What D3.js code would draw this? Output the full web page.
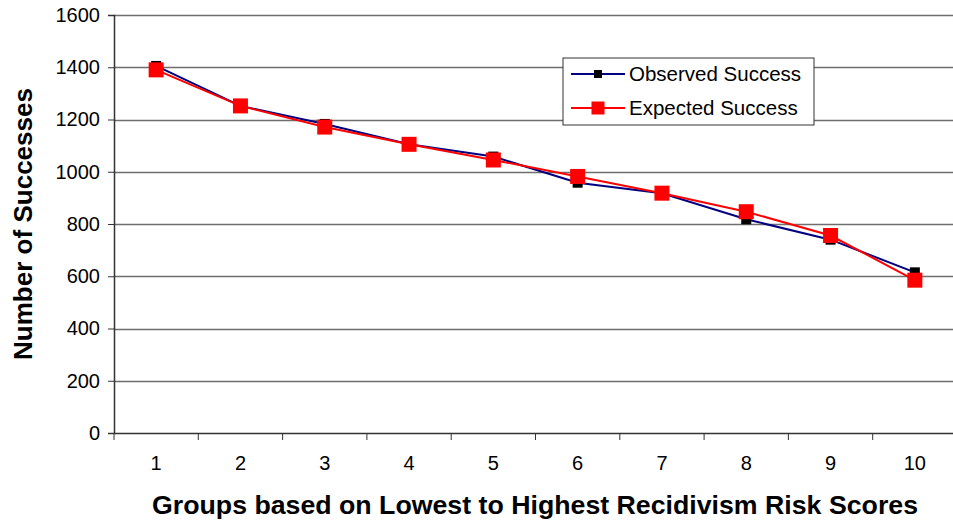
<!DOCTYPE html>
<html lang="en">
<head>
<meta charset="utf-8">
<title>Observed vs Expected Success</title>
<script src="https://d3js.org/d3.v7.min.js"></script>
<style>
  body { margin: 0; background: #fff; font-family: 'Liberation Sans', Arial, sans-serif; }
</style>
</head>
<body>
<div id="chart"></div>
<script>

/* Data */
var groups = ['1', '2', '3', '4', '5', '6', '7', '8', '9', '10'];
var observed = [1405, 1252, 1183, 1105, 1058, 958, 918, 818, 740, 615];
var expected = [1390, 1252, 1171, 1105, 1045, 982, 918, 847, 756, 585];
var yTicks = [0, 200, 400, 600, 800, 1000, 1200, 1400, 1600];

/* Layout */
var width = 953, height = 524;
var margin = { top: 15, right: -4, bottom: 91, left: 114 };
var innerW = width - margin.left - margin.right,
    innerH = height - margin.top - margin.bottom;

var svg = d3.select('#chart').append('svg')
  .attr('width', width)
  .attr('height', height);

var g = svg.append('g')
  .attr('transform', 'translate(' + margin.left + ',' + margin.top + ')');

var x = d3.scaleBand().domain(groups).range([0, innerW]);
var y = d3.scaleLinear().domain([0, 1600]).range([innerH, 0]);

// gridlines
g.selectAll('line.grid')
  .data(yTicks.filter(function(d) { return d > 0; }))
  .enter().append('line')
  .attr('class', 'grid')
  .attr('x1', 0).attr('x2', innerW)
  .attr('y1', function(d) { return Math.round(y(d)) + 0.5; })
  .attr('y2', function(d) { return Math.round(y(d)) + 0.5; })
  .attr('stroke', '#6e6e6e')
  .attr('stroke-width', 1.3);

// y axis
var yAxis = g.append('g')
  .call(d3.axisLeft(y).tickValues(yTicks).tickFormat(d3.format('d')).tickSize(6).tickPadding(8));
yAxis.select('.domain').attr('stroke', '#333').attr('stroke-width', 1.5);
yAxis.selectAll('.tick line').attr('stroke', '#333');
yAxis.selectAll('text')
  .attr('font-size', 20)
  .attr('fill', '#000')
  .attr('font-family', "'Liberation Sans', Arial, sans-serif");

// x axis with ticks at band boundaries
var xAxis = g.append('g')
  .attr('transform', 'translate(0,' + innerH + ')')
  .call(d3.axisBottom(x).tickSize(0).tickPadding(23));
xAxis.select('.domain').attr('stroke', '#333').attr('stroke-width', 1.5);
xAxis.selectAll('text')
  .attr('font-size', 20)
  .attr('fill', '#000')
  .attr('font-family', "'Liberation Sans', Arial, sans-serif");
g.selectAll('line.xtick')
  .data(groups)
  .enter().append('line')
  .attr('class', 'xtick')
  .attr('x1', function(d) { return x(d); })
  .attr('x2', function(d) { return x(d); })
  .attr('y1', innerH).attr('y2', innerH + 7)
  .attr('stroke', '#333');

// lines
var line = d3.line()
  .x(function(d, i) { return x(groups[i]) + x.bandwidth() / 2; })
  .y(function(d) { return y(d); });

g.append('path').datum(observed)
  .attr('d', line)
  .attr('fill', 'none')
  .attr('stroke', '#000080')
  .attr('stroke-width', 2);

g.selectAll('rect.obs')
  .data(observed)
  .enter().append('rect')
  .attr('class', 'obs')
  .attr('x', function(d, i) { return x(groups[i]) + x.bandwidth() / 2 - 5; })
  .attr('y', function(d) { return y(d) - 5; })
  .attr('width', 10).attr('height', 10)
  .attr('fill', '#000');

g.append('path').datum(expected)
  .attr('d', line)
  .attr('fill', 'none')
  .attr('stroke', '#ff0000')
  .attr('stroke-width', 2);

g.selectAll('rect.exp')
  .data(expected)
  .enter().append('rect')
  .attr('class', 'exp')
  .attr('x', function(d, i) { return x(groups[i]) + x.bandwidth() / 2 - 7.5; })
  .attr('y', function(d) { return y(d) - 7.5; })
  .attr('width', 15).attr('height', 15)
  .attr('fill', '#ff0000');

// legend
var legend = svg.append('g').attr('transform', 'translate(563,58)');
legend.append('rect')
  .attr('width', 251).attr('height', 67)
  .attr('fill', '#fff')
  .attr('stroke', '#333').attr('stroke-width', 1);

var legendItems = [
  { name: 'Observed Success', color: '#000080', marker: '#000', size: 8 },
  { name: 'Expected Success', color: '#ff0000', marker: '#ff0000', size: 13 }
];
legendItems.forEach(function(d, i) {
  var ly = 16 + i * 34;
  legend.append('line')
    .attr('x1', 8).attr('x2', 62)
    .attr('y1', ly).attr('y2', ly)
    .attr('stroke', d.color).attr('stroke-width', 2);
  legend.append('rect')
    .attr('x', 35 - d.size / 2).attr('y', ly - d.size / 2)
    .attr('width', d.size).attr('height', d.size)
    .attr('fill', d.marker);
  legend.append('text')
    .attr('x', 66).attr('y', ly + 7)
    .attr('font-size', 20.5)
    .attr('fill', '#000')
    .text(d.name);
});

// axis titles
svg.append('text')
  .attr('x', 535).attr('y', 514)
  .attr('text-anchor', 'middle')
  .attr('font-size', 25)
  .attr('font-weight', 'bold')
  .attr('textLength', 766)
  .attr('lengthAdjust', 'spacingAndGlyphs')
  .text('Groups based on Lowest to Highest Recidivism Risk Scores');

svg.append('text')
  .attr('transform', 'translate(32,224) rotate(-90)')
  .attr('text-anchor', 'middle')
  .attr('font-size', 26)
  .attr('font-weight', 'bold')
  .attr('textLength', 272)
  .attr('lengthAdjust', 'spacingAndGlyphs')
  .text('Number of Successes');

</script>
</body>
</html>
